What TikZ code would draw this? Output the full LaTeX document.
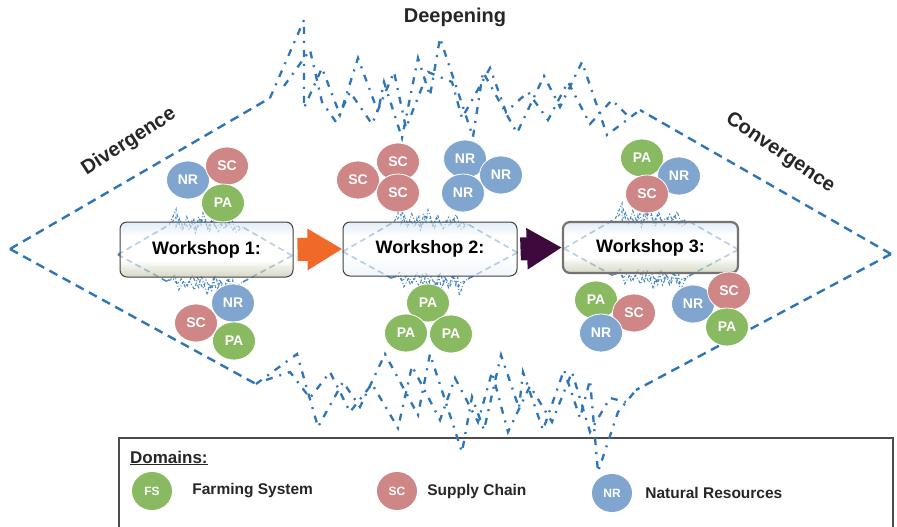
\documentclass[tikz,border=0pt]{standalone}
\usepackage{fontspec}
\setmainfont{Liberation Sans}
\usetikzlibrary{positioning,shapes.geometric,arrows.meta}

\definecolor{zigblue}{RGB}{46,117,182}
\definecolor{pagreen}{RGB}{137,185,96}
\definecolor{scred}{RGB}{206,134,134}
\definecolor{nrblue}{RGB}{128,166,207}
\definecolor{arroworange}{RGB}{241,105,40}
\definecolor{arrowplum}{RGB}{62,10,62}
\definecolor{skytone}{RGB}{206,224,241}
\definecolor{skylight}{RGB}{232,240,248}
\definecolor{fieldtone}{RGB}{186,192,160}
\definecolor{fieldlight}{RGB}{222,226,208}

\pgfdeclareverticalshading{photo}{100bp}{color(0bp)=(fieldtone); color(25bp)=(fieldtone); color(34bp)=(fieldlight); color(40bp)=(white); color(62bp)=(white); color(75bp)=(skytone); color(100bp)=(skytone)}
\pgfdeclareverticalshading{photosky}{100bp}{color(0bp)=(skylight); color(25bp)=(skylight); color(45bp)=(white); color(62bp)=(white); color(75bp)=(skytone); color(100bp)=(skytone)}

\begin{document}
\begin{tikzpicture}[x=1pt,y=-1pt,
divline/.style={zigblue, line width=2.4pt, dash pattern=on 9pt off 6pt},
zigline/.style={zigblue, line width=2.3pt, dash pattern=on 7pt off 7pt on 2pt off 7pt},
mini/.style={opacity=0.85,
  divline/.style={zigblue, line width=1.6pt, dash pattern=on 6pt off 4pt},
  zigline/.style={zigblue, line width=1.1pt, dash pattern=on 3pt off 2pt on 1pt off 2pt}},
workshop/.style={rectangle, rounded corners=7pt, draw=black!75, line width=1pt, shade, shading=photo, fill opacity=0.6, text opacity=1, font=\bfseries\fontsize{18}{20}\selectfont},
dom/.style={ellipse, minimum width=43pt, minimum height=38pt, inner sep=0pt, draw=white, line width=0.8pt, text=white, font=\bfseries\fontsize{14}{14}\selectfont},
legenddot/.style={ellipse, minimum width=40pt, minimum height=38pt, inner sep=0pt, text=white, font=\bfseries\fontsize{12}{12}\selectfont},
legendtext/.style={inner sep=0pt, font=\bfseries\fontsize{15.5}{17}\selectfont, text=black!85},
heading/.style={inner sep=0pt, font=\bfseries\fontsize{20}{22}\selectfont, text=black!85},
flowarrow/.style={line width=23pt, -{Triangle[length=35pt,width=39pt]}}]

\useasboundingbox (0,0) rectangle (897,527);
\clip (0,0) rectangle (897,527);

%% local variables
\def \miniscale {0.198}
\def \deepoutline {%
  \draw[divline] (10,249) -- (270,98);
  \draw[divline] (10,249) -- (256,384);
  \draw[divline] (891,254) -- (640,110);
  \draw[divline] (891,254) -- (636,390);
  % deepening, top
  \draw[zigline] (270,98) -- (304,20) -- (304,108) -- (322,68) -- (340,115) -- (358,58) -- (378,112) -- (384,82) -- (402,138) -- (418,58) -- (430,96) -- (440,38) -- (473,137) -- (483,72) -- (517,133) -- (544,76) -- (560,107) -- (582,62) -- (607,135) -- (640,110);
  \draw[zigline] (284,86) -- (310,50) -- (322,102) -- (336,122) -- (350,92) -- (372,124) -- (394,72) -- (406,128) -- (428,72) -- (452,82) -- (462,118) -- (490,68) -- (506,112) -- (528,92) -- (548,120) -- (568,82) -- (590,124) -- (612,100) -- (628,116);
  % deepening, bottom
  \draw[zigline] (256,384) -- (297,354) -- (318,427) -- (343,382) -- (360,407) -- (385,354) -- (418,415) -- (430,354) -- (462,452) -- (472,397) -- (484,430) -- (501,355) -- (519,408) -- (523,372) -- (543,430) -- (564,370) -- (580,418) -- (590,380) -- (598,472) -- (618,412) -- (636,390);
  \draw[zigline] (266,380) -- (290,372) -- (310,398) -- (330,372) -- (350,412) -- (372,384) -- (398,428) -- (412,366) -- (440,420) -- (455,378) -- (478,422) -- (492,372) -- (508,432) -- (530,386) -- (552,422) -- (572,372) -- (590,432) -- (610,398) -- (626,402);
}

%% legend frame
\draw[black!70, line width=1.2pt] (119,438) rectangle (893,560);

%% the big outline
\deepoutline

%% small copies behind the workshops
\foreach \cx/\cy in {205/255, 430/252, 651/249}{
  \begin{scope}[mini, shift={(\cx,\cy)}, scale=\miniscale, shift={(-450,-251)}]
    \deepoutline
  \end{scope}
}

%% workshops
\node[workshop, minimum width=173pt, minimum height=55pt] (W-1) at (206.5,249.5) {Workshop 1:};
\node[workshop, shading=photosky, minimum width=174pt, minimum height=54pt] (W-2) at (430,249) {Workshop 2:};
\node[workshop, draw=black!55, line width=2.2pt, minimum width=175pt, minimum height=51pt] (W-3) at (650.5,247.5) {Workshop 3:};

\draw[flowarrow, arroworange] ([xshift=4pt]W-1.east) -- (W-2.west);
\draw[flowarrow, arrowplum] ([xshift=3pt]W-2.east) -- (W-3.west);

%% domains round the workshops
\foreach \n/\c/\t/\x/\y in {
    T1-NR/nrblue/NR/188/180, T1-SC/scred/SC/227/166, T1-PA/pagreen/PA/223/203,
    B1-NR/nrblue/NR/233/303, B1-SC/scred/SC/196/323, B1-PA/pagreen/PA/234/341,
    T2-SC1/scred/SC/358/180, T2-SC2/scred/SC/398/162, T2-SC3/scred/SC/398/193,
    T2-NR1/nrblue/NR/465/159, T2-NR2/nrblue/NR/501/175, T2-NR3/nrblue/NR/463/193,
    B2-PA1/pagreen/PA/428/303, B2-PA2/pagreen/PA/406/333, B2-PA3/pagreen/PA/451/334,
    T3-PA/pagreen/PA/642/158, T3-NR/nrblue/NR/679/176, T3-SC/scred/SC/647/194,
    B3-PA1/pagreen/PA/596/300, B3-SC1/scred/SC/634/313, B3-NR1/nrblue/NR/601/333,
    B3-NR2/nrblue/NR/693/304, B3-SC2/scred/SC/729/291, B3-PA2/pagreen/PA/727/327}
  \node[dom, fill=\c] (\n) at (\x,\y) {\t};

%% phase names
\node[heading] (deep) at (455,17) {Deepening};
\node[heading, rotate=33] (div) at (129,142) {Divergence};
\node[heading, rotate=-34] (conv) at (780,153) {Convergence};

%% legend
\node[anchor=west, inner sep=0pt, font=\bfseries\fontsize{17}{18}\selectfont, text=black!85] (domains) at (130,458) {\underline{Domains:}};
\node[legenddot, fill=pagreen] (L-FS) at (152,491) {FS};
\node[legendtext, right=20pt of L-FS] (L-FS-text) {Farming System};
\node[legenddot, fill=scred] (L-SC) at (397,491) {SC};
\node[legendtext, right=10pt of L-SC] (L-SC-text) {Supply Chain};
\node[legenddot, fill=nrblue] (L-NR) at (612,493) {NR};
\node[legendtext, right=13pt of L-NR] (L-NR-text) {Natural Resources};

\end{tikzpicture}
\end{document}
